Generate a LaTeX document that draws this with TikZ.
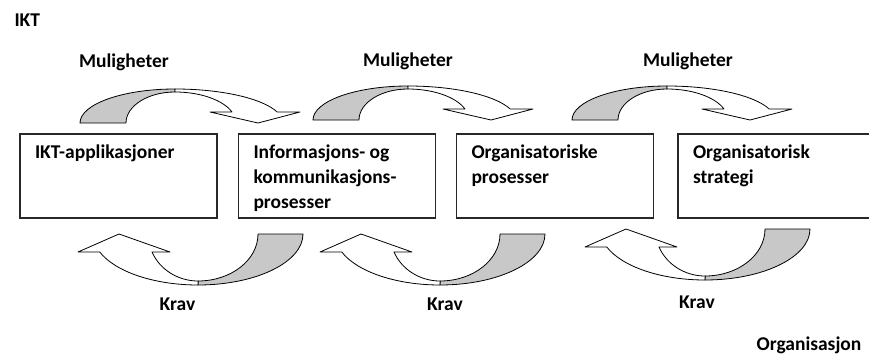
\documentclass[tikz,border=0pt]{standalone}
\usepackage{fontspec}
\setmainfont{Carlito}
\usepackage{tikz}
\usetikzlibrary{positioning}
\definecolor{pilgraa}{RGB}{200,200,200}
\definecolor{rammegraa}{RGB}{40,40,40}
\newcommand{\bokstekst}[2][167pt]{\parbox[c][84pt][t]{#1}{\raggedright\rule{0pt}{24pt}#2}}
% upper arrow: #1 = left x of the tail, #2 = base y
\newcommand{\muligpil}[2]{
    \filldraw[pil,fill=pilgraa] (#1,#2)
        arc[start angle=180,end angle=90,x radius=95,y radius=34] -- ++(0,-3)
        arc[start angle=90,end angle=180,x radius=49,y radius=31] -- cycle;
    \filldraw[pil,fill=white] (#1+95,#2+34)
        arc[start angle=90,end angle=18.9,x radius=108,y radius=34]
        -- (#1+220,#2+11) -- (#1+178,#2) -- (#1+130,#2+11) -- (#1+152,#2+11)
        arc[start angle=20.8,end angle=90,x radius=61,y radius=31] -- cycle;
}
% lower arrow: #1 = right x of the tail, #2 = top y
\newcommand{\kravpil}[2]{
    \filldraw[pil,fill=pilgraa] (#1,#2)
        arc[start angle=0,end angle=-90,x radius=105,y radius=51] -- ++(0,4)
        arc[start angle=-90,end angle=0,x radius=60,y radius=47] -- cycle;
    \filldraw[pil,fill=white] (#1-105,#2-51)
        arc[start angle=-90,end angle=-159.3,x radius=105,y radius=51]
        -- (#1-225,#2-18) -- (#1-184,#2) -- (#1-133,#2-18) -- (#1-151,#2-18)
        arc[start angle=-157.5,end angle=-90,x radius=50,y radius=47] -- cycle;
}

\begin{document}
\begin{tikzpicture}[x=1pt,y=1pt,
    boks/.style={rectangle,draw=rammegraa,line width=1.3pt,minimum width=197pt,
        minimum height=84pt,inner sep=0pt,font=\bfseries\fontsize{19.5}{25}\selectfont},
    etikett/.style={font=\bfseries\fontsize{19.5}{25}\selectfont,anchor=base},
    pil/.style={draw=black,line width=0.8pt,line join=round}]

    \useasboundingbox (0,0) rectangle (869,354);
    \clip (0,0) rectangle (869,354);

    % Boxes
    \node[boks] (app) at (118.5,178) {\bokstekst{IKT-applikasjoner}};
    \node[boks] (info) at (337,178) {\bokstekst{Informasjons- og\\kommunikasjons-\\prosesser}};
    \node[boks] (prosess) at (555,178) {\bokstekst{Organisatoriske\\prosesser}};
    \node[boks,draw=none,outer sep=0pt,minimum width=240pt] (strategi) at (798,178)
        {\bokstekst[210pt]{Organisatorisk\\strategi}};
    % last box runs off the page
    \draw[rammegraa,line width=1.3pt] (strategi.south east) -- (strategi.south west)
        -- (strategi.north west) -- (strategi.north east);

    % Arrows
    \muligpil{80}{231}
    \muligpil{313}{234}
    \muligpil{572}{234}
    \kravpil{303}{120}
    \kravpil{545}{120}
    \kravpil{810}{125}

    % Labels
    \node[etikett,anchor=base west] (ikt) at (11,327) {IKT};
    \node[etikett] (mul1) at (124,286) {Muligheter};
    \node[etikett] (mul2) at (408,287) {Muligheter};
    \node[etikett] (mul3) at (688,287) {Muligheter};
    \node[etikett] (krav1) at (177.5,44) {Krav};
    \node[etikett] (krav2) at (445,44) {Krav};
    \node[etikett] (krav3) at (697,46) {Krav};
    \node[etikett] (org) at (809,4) {Organisasjon};

\end{tikzpicture}
\end{document}
